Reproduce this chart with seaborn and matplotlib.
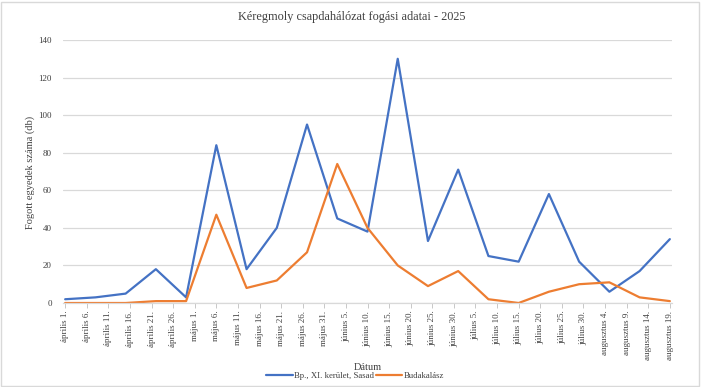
import matplotlib
matplotlib.use("Agg")
import matplotlib.pyplot as plt
from matplotlib.patches import Rectangle
import seaborn as sns
import pandas as pd

# ---- data ----
dates = ["2025-04-01", "2025-04-08", "2025-04-15", "2025-04-22", "2025-04-29",
         "2025-05-06", "2025-05-13", "2025-05-20", "2025-05-27", "2025-06-03",
         "2025-06-10", "2025-06-17", "2025-06-24", "2025-07-01", "2025-07-08",
         "2025-07-15", "2025-07-22", "2025-07-29", "2025-08-05", "2025-08-12",
         "2025-08-19"]
sasad = [2, 3, 5, 18, 3, 84, 18, 40, 95, 45, 38, 130, 33, 71, 25, 22, 58, 22, 6, 17, 34]
budakalasz = [0, 0, 0, 1, 1, 47, 8, 12, 27, 74, 40, 20, 9, 17, 2, 0, 6, 10, 11, 3, 1]
series_names = ["Bp., XI. kerület, Sasad", "Budakalász"]
colors = ["#4472C4", "#ED7D31"]

tick_dates = ["2025-04-01", "2025-04-06", "2025-04-11", "2025-04-16", "2025-04-21",
              "2025-04-26", "2025-05-01", "2025-05-06", "2025-05-11", "2025-05-16",
              "2025-05-21", "2025-05-26", "2025-05-31", "2025-06-05", "2025-06-10",
              "2025-06-15", "2025-06-20", "2025-06-25", "2025-06-30", "2025-07-05",
              "2025-07-10", "2025-07-15", "2025-07-20", "2025-07-25", "2025-07-30",
              "2025-08-04", "2025-08-09", "2025-08-14", "2025-08-19"]
tick_labels = ["április 1.", "április 6.", "április 11.", "április 16.", "április 21.",
               "április 26.", "május 1.", "május 6.", "május 11.", "május 16.",
               "május 21.", "május 26.", "május 31.", "június 5.", "június 10.",
               "június 15.", "június 20.", "június 25.", "június 30.", "július 5.",
               "július 10.", "július 15.", "július 20.", "július 25.", "július 30.",
               "augusztus 4.", "augusztus 9.", "augusztus 14.", "augusztus 19."]
y_ticks = [0, 20, 40, 60, 80, 100, 120, 140]

df = pd.DataFrame({
    "Dátum": pd.to_datetime(dates * 2),
    "érték": sasad + budakalasz,
    "sorozat": [series_names[0]] * len(dates) + [series_names[1]] * len(dates),
})

sns.set_theme(style="white")
plt.rcParams["font.family"] = ["Liberation Serif", "DejaVu Serif"]

fig = plt.figure(figsize=(7.01, 3.87), dpi=100)
ax = fig.add_axes([63 / 701, 1 - 303 / 387, (672 - 63) / 701, (303 - 40) / 387])

sns.lineplot(data=df, x="Dátum", y="érték", hue="sorozat",
             palette=dict(zip(series_names, colors)), linewidth=1.6,
             ax=ax, legend=False)

ax.set_ylim(0, 140)
ax.set_yticks(y_ticks)
ax.set_xlim(pd.Timestamp("2025-03-31 12:00"), pd.Timestamp("2025-08-19 12:00"))
ax.set_xticks(pd.to_datetime(tick_dates))
ax.set_xticklabels(tick_labels, rotation=90, fontsize=6.5, color="#404040")
ax.tick_params(axis="y", labelsize=6.5, labelcolor="#404040", length=0, pad=8)
ax.tick_params(axis="x", length=3.5, width=0.6, color="#BFBFBF", pad=2, direction="out", bottom=True)
ax.grid(axis="y", color="#D9D9D9", linewidth=0.9)
ax.set_axisbelow(True)
for s in ["top", "right", "left"]:
    ax.spines[s].set_visible(False)
ax.spines["bottom"].set_color("#D9D9D9")
ax.spines["bottom"].set_linewidth(0.9)

ax.set_xlabel("")
ax.set_ylabel("")
fig.text(30 / 701, 1 - 172 / 387, "Fogott egyedek száma (db)", rotation=90,
         ha="center", va="center", fontsize=7.5, color="#404040")
fig.text(368 / 701, 1 - 368 / 387, "Dátum", ha="center", va="center",
         fontsize=7.5, color="#404040")
fig.text(352 / 701, 1 - 17 / 387, "Kéregmoly csapdahálózat fogási adatai - 2025",
         ha="center", va="center", fontsize=8.8, color="#404040")

handles = [plt.Line2D([0], [0], color=c, linewidth=1.6) for c in colors]
fig.legend(handles, series_names, loc="center", bbox_to_anchor=(355 / 701, 1 - 376 / 387),
           ncol=2, frameon=False, fontsize=6.3, handlelength=3.0, handletextpad=0.1,
           columnspacing=0.3, labelcolor="#404040")

fig.patches.append(Rectangle((0.002, 0.003), 0.995, 0.993, transform=fig.transFigure,
                             fill=False, edgecolor="#D9D9D9", linewidth=1.0))

fig.savefig("out.png", dpi=100)
